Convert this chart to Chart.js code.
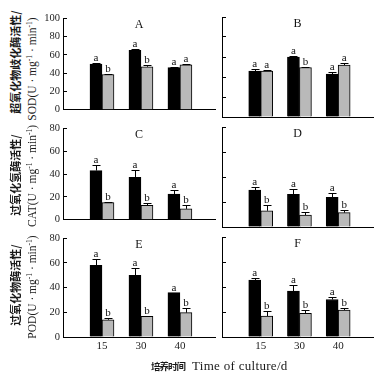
<!DOCTYPE html>
<html>
<head>
<meta charset="utf-8">
<script src="https://cdn.jsdelivr.net/npm/chart.js@4.4.1/dist/chart.umd.min.js"></script>
<style>
  html, body { margin: 0; padding: 0; background: #fff; }
  #wrap { position: relative; width: 381px; height: 380px; overflow: hidden; background: #fff; }
  canvas { position: absolute; }
  .vt { position: absolute; white-space: nowrap; line-height: 1; color: #1a1a1a;
        transform: translate(-50%, -50%) rotate(-90deg); }
  .cn { font-family: "Noto Sans CJK SC"; font-weight: bold; font-size: 11px; }
  .en { font-family: "Liberation Serif"; font-size: 11.5px; }
  .en sup { font-size: 7.5px; line-height: 0; vertical-align: 4px; }
  #xtitle { position: absolute; left: 151px; top: 357px; white-space: nowrap; color: #1a1a1a; line-height: 16px; }
  #xtitle .cn { font-size: 9.5px; letter-spacing: -1px; margin-right: 3px; }
  #xtitle .en { font-size: 13px; letter-spacing: 0.3px; }
</style>
</head>
<body>
<div id="wrap">
  <canvas id="cA" width="178" height="118" style="left:40px;top:5px"></canvas>
  <canvas id="cB" width="160" height="118" style="left:218px;top:5px"></canvas>
  <canvas id="cC" width="178" height="118" style="left:40px;top:115px"></canvas>
  <canvas id="cD" width="160" height="118" style="left:218px;top:115px"></canvas>
  <canvas id="cE" width="178" height="130" style="left:40px;top:225px"></canvas>
  <canvas id="cF" width="160" height="130" style="left:218px;top:225px"></canvas>

  <div class="vt cn" style="left:15px;top:62px">超氧化物歧化酶活性/</div>
  <div class="vt en" style="left:33px;top:69px">SOD(U · mg<sup>-1</sup> · min<sup>-1</sup>)</div>
  <div class="vt cn" style="left:15px;top:175px">过氧化氢酶活性/</div>
  <div class="vt en" style="left:33px;top:176px">CAT(U · mg<sup>-1</sup> · min<sup>-1</sup>)</div>
  <div class="vt cn" style="left:15px;top:285px">过氧化物酶活性/</div>
  <div class="vt en" style="left:33px;top:287px">POD(U · mg<sup>-1</sup> · min<sup>-1</sup>)</div>

  <div id="xtitle"><span class="cn">培养时间</span> <span class="en">Time of culture/d</span></div>
</div>

<script>
const days = ['15', '30', '40'];

// A — SOD
const aBlack = [50, 65, 46];
const aBlackErr = [1.2, 1.2, 0.8];
const aBlackSig = ['a', 'a', 'a'];
const aGray = [38.5, 47, 49];
const aGrayErr = [0.8, 1.8, 1];
const aGraySig = ['b', 'b', 'a'];

// B — SOD
const bBlack = [46, 60, 43];
const bBlackErr = [2.3, 1, 2.3];
const bBlackSig = ['a', 'a', 'a'];
const bGray = [46, 49.5, 52];
const bGrayErr = [1.2, 0.8, 2];
const bGraySig = ['a', 'b', 'a'];

// C — CAT
const cBlack = [43, 37, 22.5];
const cBlackErr = [5, 6.5, 3.2];
const cBlackSig = ['a', 'a', 'a'];
const cGray = [15, 12.5, 9.5];
const cGrayErr = [0.6, 2.5, 3.5];
const cGraySig = ['b', 'b', 'b'];

// D — CAT
const dBlack = [29.6, 26.2, 23.7];
const dBlackErr = [2.7, 4, 3.2];
const dBlackSig = ['a', 'a', 'a'];
const dGray = [13, 9.6, 11.5];
const dGrayErr = [5, 2.7, 2.1];
const dGraySig = ['b', 'b', 'b'];

// E — POD
const eBlack = [58, 50, 36];
const eBlackErr = [5.6, 6, 0];
const eBlackSig = ['a', 'a', 'a'];
const eGray = [14, 16.8, 19.7];
const eGrayErr = [1.6, 0.5, 4];
const eGraySig = ['b', 'b', 'b'];

// F — POD
const fBlack = [45.6, 36.8, 30];
const fBlackErr = [1.4, 4.8, 2.3];
const fBlackSig = ['a', 'a', 'a'];
const fGray = [16.8, 19, 21.6];
const fGrayErr = [4, 2.6, 1.4];
const fGraySig = ['b', 'b', 'b'];

const FONT = 'Liberation Serif';

// error bars, significance letters and the panel letter
const barMarks = {
  id: 'barMarks',
  afterDatasetsDraw(chart, args, opts) {
    const { ctx, chartArea } = chart;
    const yScale = chart.scales.y;
    ctx.save();
    ctx.strokeStyle = '#000';
    ctx.fillStyle = '#111';
    ctx.lineWidth = 1;
    ctx.textAlign = 'center';
    chart.data.datasets.forEach((ds, di) => {
      chart.getDatasetMeta(di).data.forEach((bar, i) => {
        const v = ds.data[i].y;
        const yTop = yScale.getPixelForValue(v);
        const yErr = Math.round(yScale.getPixelForValue(v + ds.err[i])) + 0.5;
        const x = Math.round(bar.x) + 0.5;
        if (ds.err[i] > 0) {
          ctx.beginPath();
          ctx.moveTo(x, yTop);
          ctx.lineTo(x, yErr);
          ctx.moveTo(x - 4, yErr);
          ctx.lineTo(x + 4, yErr);
          ctx.stroke();
        }
        ctx.font = `11px "${FONT}"`;
        ctx.textBaseline = 'alphabetic';
        ctx.fillText(ds.sig[i], bar.x, yErr - 3);
      });
    });
    ctx.font = `12px "${FONT}"`;
    ctx.textBaseline = 'middle';
    ctx.fillText(opts.letter, (chartArea.left + chartArea.right) / 2, chartArea.top + 7);
    ctx.restore();
  },
};

function makePanel(id, letter, yMax, black, blackErr, blackSig, gray, grayErr, graySig, isLeft, showX) {
  return new Chart(document.getElementById(id), {
    type: 'bar',
    data: {
      datasets: [
        {
          data: black.map((v, i) => ({ x: i + 1, y: v })),
          err: blackErr,
          sig: blackSig,
          backgroundColor: '#000',
          borderColor: '#000',
          borderWidth: 1,
          barThickness: 12,
        },
        {
          data: gray.map((v, i) => ({ x: i + 1, y: v })),
          err: grayErr,
          sig: graySig,
          backgroundColor: '#b9b9b9',
          borderColor: '#000',
          borderWidth: 1,
          barThickness: 12,
        },
      ],
    },
    options: {
      responsive: false,
      animation: false,
      layout: { padding: { top: 12, right: isLeft ? 3 : 5, bottom: 2, left: 0 } },
      plugins: {
        legend: { display: false },
        tooltip: { enabled: false },
        barMarks: { letter },
      },
      scales: {
        x: {
          type: 'linear',
          offset: false,
          min: 0,
          max: 3.9,
          afterBuildTicks: (s) => { s.ticks = days.map((d, i) => ({ value: i + 1 })); },
          afterFit: (s) => { s.height = showX ? 16 : 4; },
          grid: { display: false, drawTicks: false, tickLength: 0 },
          border: { display: true, color: '#000', width: 1 },
          ticks: {
            display: showX,
            autoSkip: false,
            maxRotation: 0,
            padding: 3,
            color: '#222',
            font: { family: FONT, size: 11 },
            callback: (v) => days[Math.round(v) - 1] ?? '',
          },
        },
        y: {
          min: 0,
          max: yMax,
          afterFit: (s) => { s.width = isLeft ? 23 : 4; },
          grid: { display: true, drawOnChartArea: false, drawTicks: true, tickLength: -4, color: '#000' },
          border: { display: true, color: '#000', width: 1 },
          ticks: {
            display: isLeft,
            stepSize: 20,
            padding: 7,
            color: '#222',
            font: { family: FONT, size: 10.5 },
          },
        },
      },
    },
    plugins: [barMarks],
  });
}

makePanel('cA', 'A', 100, aBlack, aBlackErr, aBlackSig, aGray, aGrayErr, aGraySig, true, false);
makePanel('cB', 'B', 100, bBlack, bBlackErr, bBlackSig, bGray, bGrayErr, bGraySig, false, false);
makePanel('cC', 'C', 80, cBlack, cBlackErr, cBlackSig, cGray, cGrayErr, cGraySig, true, false);
makePanel('cD', 'D', 80, dBlack, dBlackErr, dBlackSig, dGray, dGrayErr, dGraySig, false, false);
makePanel('cE', 'E', 80, eBlack, eBlackErr, eBlackSig, eGray, eGrayErr, eGraySig, true, true);
makePanel('cF', 'F', 80, fBlack, fBlackErr, fBlackSig, fGray, fGrayErr, fGraySig, false, true);
</script>
</body>
</html>
